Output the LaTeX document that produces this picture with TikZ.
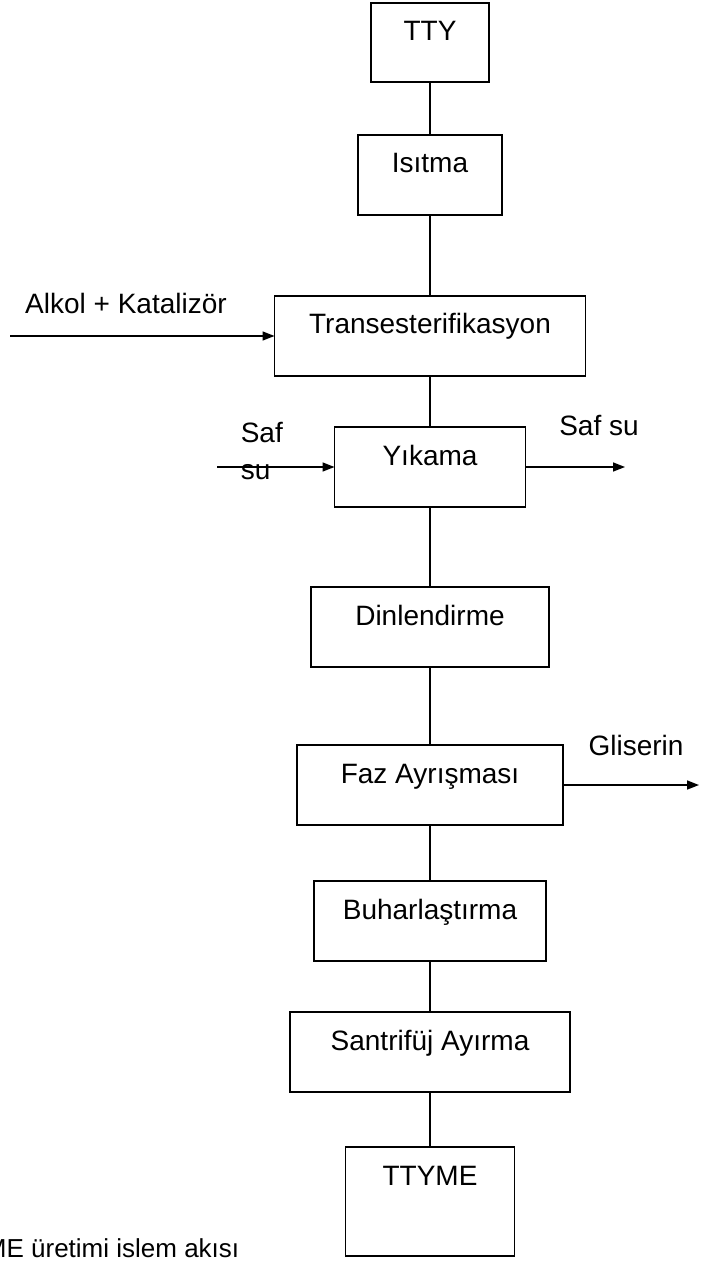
\documentclass[tikz,border=0pt]{standalone}
\usepackage{fontspec}
\setmainfont{Liberation Sans}
\usetikzlibrary{arrows.meta,positioning}

\begin{document}
\begin{tikzpicture}[x=0.5pt,y=-0.5pt,
   font=\fontsize{14pt}{18.5pt}\selectfont,
   line width=0.8pt,
   blok/.style={draw,inner xsep=0pt,inner ysep=0pt,outer sep=0pt,
                text height=19pt,text depth=21pt,align=center},
   etiket/.style={inner sep=0pt},
   ok/.style={-{Triangle[length=6pt,width=4.5pt]}}]
  \useasboundingbox (0,0) rectangle (700,1261);
  \clip (0,0) rectangle (700,1261);

  % ana akis
  \node[blok,minimum width=59pt,text depth=20.5pt,anchor=north] (tty) at (430,3) {TTY};
  \node[blok,minimum width=72pt,below=26.5pt of tty] (isitma) {Isıtma};
  \node[blok,minimum width=155.5pt,below=40.5pt of isitma] (trans) {Transesterifikasyon};
  \node[blok,minimum width=95.5pt,below=25.5pt of trans] (yikama) {Yıkama};
  \node[blok,minimum width=119pt,below=40pt of yikama] (dinlen) {Dinlendirme};
  \node[blok,minimum width=133pt,below=39pt of dinlen] (faz) {Faz Ayrışması};
  \node[blok,minimum width=116pt,below=28pt of faz] (buhar) {Buharlaştırma};
  \node[blok,minimum width=140pt,below=25.5pt of buhar] (santri) {Santrifüj Ayırma};
  \node[blok,minimum width=84.5pt,text depth=35.5pt,below=27.5pt of santri] (ttyme) {TTYME};

  \foreach \a/\b in {tty/isitma,isitma/trans,trans/yikama,yikama/dinlen,
                     dinlen/faz,faz/buhar,buhar/santri,santri/ttyme}
    \draw (\a) -- (\b);

  % yan girdiler ve ciktilar
  \coordinate (alkolbas) at (trans.west -| 10,0);
  \draw[ok] (alkolbas) -- (trans.west);
  \node[etiket] (alkol) at (126,303) {Alkol + Katalizör};

  \coordinate (safbas) at (yikama.west -| 217,0);
  \draw[ok] (safbas) -- (yikama.west);
  \node[etiket,align=left,anchor=north west] (safgiris) at (240,421) {Saf\\su};

  \coordinate (safson) at (yikama.east -| 625,0);
  \draw[ok] (yikama.east) -- (safson);
  \node[etiket] (safcikis) at (599,426) {Saf su};

  \coordinate (glison) at (faz.east -| 699,0);
  \draw[ok] (faz.east) -- (glison);
  \node[etiket] (gliserin) at (636,745) {Gliserin};

  \node[etiket,anchor=base east,font=\fontsize{13pt}{15pt}\selectfont] (altyazi)
    at (240,1257) {TTYME üretimi islem akısı};
\end{tikzpicture}
\end{document}
